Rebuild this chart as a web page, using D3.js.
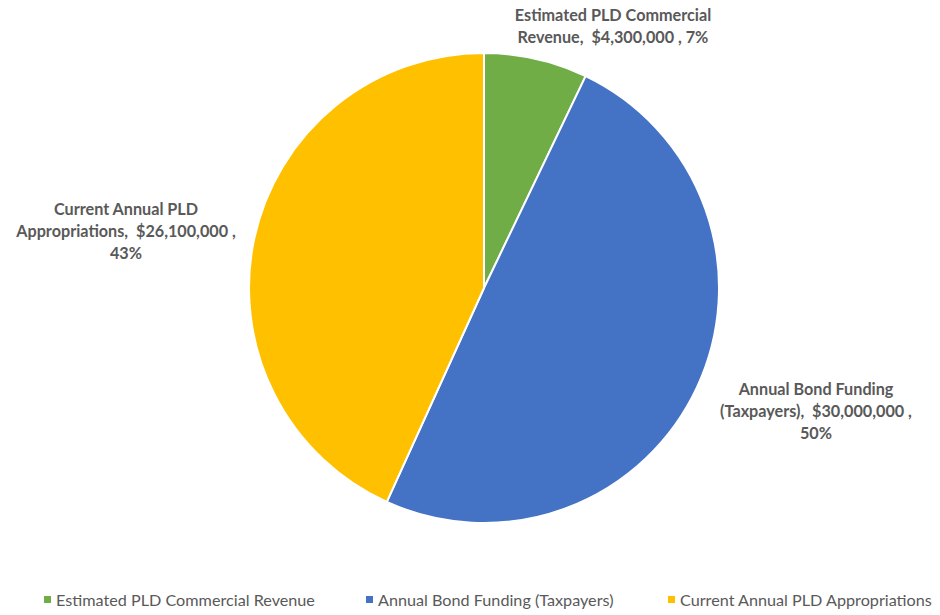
<!DOCTYPE html>
<html>
<head>
<meta charset="utf-8">
<script src="https://cdn.jsdelivr.net/npm/d3@7"></script>
<style>
  body { margin: 0; background: #fff; }
  text { font-family: Lato, "Open Sans", sans-serif; white-space: pre; }
</style>
</head>
<body>
<script>
// chart data
const categories = ["Estimated PLD Commercial Revenue", "Annual Bond Funding (Taxpayers)", "Current Annual PLD Appropriations"];
const values = [4300000, 30000000, 26100000];
const labelLines = [
    ["Estimated PLD Commercial", "Revenue,  $4,300,000 , 7%"],
    ["Annual Bond Funding", "(Taxpayers),  $30,000,000 ,", "50%"],
    ["Current Annual PLD", "Appropriations,  $26,100,000 ,", "43%"]
];
const colors = ["#70AD47", "#4472C4", "#FFC000"];

run();

function run() {
    let width = 940, height = 615;
    let cx = 484, cy = 288, r = 235;

    let svg = d3.select("body").append("svg")
        .attr("width", width)
        .attr("height", height);

    let pie = d3.pie().sort(null).value(d => d);
    let arcs = pie(values);
    let arc = d3.arc().innerRadius(0).outerRadius(r);

    let g = svg.append("g").attr("transform", "translate(" + cx + "," + cy + ")");

    g.selectAll("path.slice")
        .data(arcs)
        .enter().append("path")
        .attr("class", "slice")
        .attr("d", arc)
        .attr("fill", (d, i) => colors[i])
        .attr("stroke", "#fff")
        .attr("stroke-width", 2);

    // label anchors, relative to pie centre (Excel best-fit placement)
    let labelPos = [[129, -267], [332, 107], [-358, -73]];

    let labels = g.selectAll("text.lbl")
        .data(arcs)
        .enter().append("text")
        .attr("class", "lbl")
        .attr("text-anchor", "middle")
        .attr("font-size", 16.2)
        .attr("font-weight", "bold")
        .attr("fill", "#595959");

    labels.each(function (d, i) {
        let t = d3.select(this);
        labelLines[i].forEach((line, j) => {
            t.append("tspan")
                .attr("x", labelPos[i][0])
                .attr("y", labelPos[i][1] + j * 22)
                .text(line);
        });
    });

    // legend
    let legendX = [44, 366, 668];
    let legend = svg.selectAll("g.legend")
        .data(categories)
        .enter().append("g")
        .attr("class", "legend")
        .attr("transform", (d, i) => "translate(" + legendX[i] + ",600)");

    legend.append("rect")
        .attr("x", 0).attr("y", -4)
        .attr("width", 7).attr("height", 7)
        .attr("fill", (d, i) => colors[i]);

    legend.append("text")
        .attr("x", 12)
        .attr("y", 6)
        .attr("font-size", 16.2)
        .attr("fill", "#595959")
        .text(d => d);
}
</script>
</body>
</html>
